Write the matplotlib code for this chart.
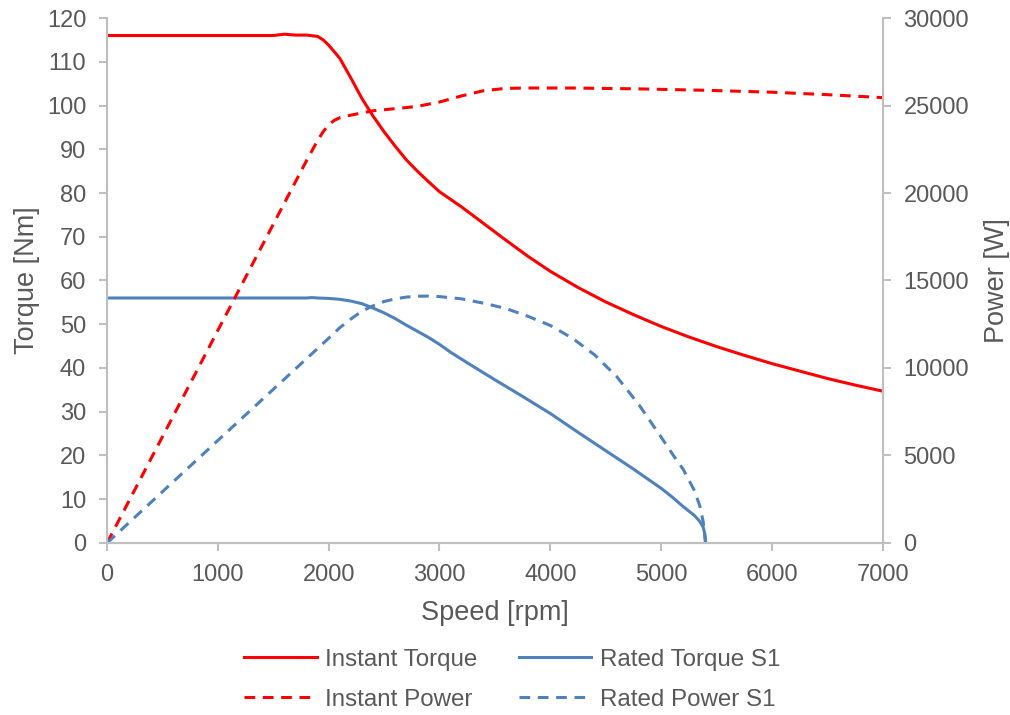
import matplotlib.pyplot as plt

# values
it_rpm = [0, 500, 1000, 1500, 1600, 1700, 1800, 1900, 1950, 2000, 2100, 2200, 2300,
          2400, 2500, 2600, 2700, 2800, 2900, 3000, 3200, 3400, 3600, 3800, 4000,
          4250, 4500, 4750, 5000, 5250, 5500, 5750, 6000, 6250, 6500, 6750, 7000]
it_torque = [116, 116, 116, 116, 116.3, 116.1, 116.1, 115.8, 115.0, 113.8, 110.8, 106.3, 101.6,
             97.6, 94.0, 90.7, 87.6, 85.0, 82.6, 80.3, 76.8, 73.0, 69.2, 65.5, 62.1,
             58.4, 55.1, 52.2, 49.5, 47.1, 44.9, 42.9, 41.0, 39.3, 37.6, 36.1, 34.7]

ip_rpm = [0, 1000, 1800, 1900, 1950, 2000, 2050, 2100, 2200, 2400, 2650, 2800, 3000,
          3200, 3400, 3600, 3800, 4200, 4800, 5400, 6000, 6500, 7000]
ip_power = [0, 12150, 21850, 23000, 23500, 23900, 24150, 24300, 24450, 24700, 24850, 24950, 25200,
            25550, 25850, 25980, 26000, 26000, 25950, 25870, 25760, 25620, 25450]

rt_rpm = [0, 1000, 1800, 1850, 1900, 2000, 2100, 2200, 2300, 2400, 2500, 2600, 2700,
          2800, 2900, 3000, 3100, 3250, 3500, 3750, 4000, 4250, 4500, 4750, 5000,
          5100, 5200, 5300, 5350, 5380, 5395, 5403]
rt_torque = [56, 56, 56, 56.1, 56.0, 55.9, 55.7, 55.3, 54.7, 53.7, 52.6, 51.3, 49.8,
             48.4, 47.0, 45.4, 43.6, 41.2, 37.3, 33.5, 29.6, 25.3, 21.1, 16.9, 12.5,
             10.5, 8.3, 6.3, 4.9, 3.6, 2.0, 0]

rp_rpm = [0, 1000, 2000, 2100, 2200, 2300, 2400, 2500, 2600, 2700, 2800, 2900, 3000,
          3200, 3400, 3600, 3800, 4000, 4200, 4400, 4600, 4800, 5000, 5100, 5200,
          5300, 5350, 5380, 5400]
rp_power = [0, 5860, 11700, 12300, 12800, 13250, 13550, 13800, 13950, 14050, 14100, 14110, 14080,
            13950, 13700, 13400, 12950, 12430, 11700, 10750, 9500, 7900, 6050, 5100, 4200,
            3000, 2100, 1200, 0]

plt.rcParams['font.family'] = ['Liberation Sans', 'DejaVu Sans']
txt = '#595959'
edge = '#BFBFBF'
red = '#FF0000'
blue = '#4F81BD'

fig = plt.figure(figsize=(10.1, 7.15), dpi=100)
ax = fig.add_axes([0.106, 0.2406, 0.768, 0.7342])
ax2 = ax.twinx()

l1, = ax.plot(it_rpm, it_torque, color=red, lw=2.2, label='Instant Torque')
l3, = ax.plot(rt_rpm, rt_torque, color=blue, lw=2.2, label='Rated Torque S1')
l2, = ax2.plot(ip_rpm, ip_power, color=red, lw=2.2, ls=(0, (3.5, 2.5)), label='Instant Power')
l4, = ax2.plot(rp_rpm, rp_power, color=blue, lw=2.2, ls=(0, (3.5, 2.5)), label='Rated Power S1')

ax.set_xlim(0, 7000)
ax.set_ylim(0, 120)
ax2.set_ylim(0, 30000)
ax.set_xticks(range(0, 7001, 1000))
ax.set_yticks(range(0, 121, 10))
ax2.set_yticks(range(0, 30001, 5000))

for a in (ax, ax2):
    for s in a.spines.values():
        s.set_color(edge)
        s.set_linewidth(1.5)
    a.spines['top'].set_visible(False)
    a.tick_params(colors=edge, labelcolor=txt, labelsize=17, width=1.5, length=6, pad=9)

ax.set_xlabel('Speed [rpm]', fontsize=19.5, color=txt, labelpad=10)
ax.set_ylabel('Torque [Nm]', fontsize=19.5, color=txt, labelpad=5)
ax2.set_ylabel('Power [W]', fontsize=19.5, color=txt, labelpad=11)

leg = fig.legend([l1, l2, l3, l4], [l.get_label() for l in (l1, l2, l3, l4)],
                 ncol=2, loc='upper center', bbox_to_anchor=(0.507, 0.123), frameon=False,
                 fontsize=17.4, handlelength=3.0, handletextpad=0.35,
                 columnspacing=1.7, labelspacing=0.75)
for t in leg.get_texts():
    t.set_color(txt)

fig.savefig('out.png', dpi=100)
